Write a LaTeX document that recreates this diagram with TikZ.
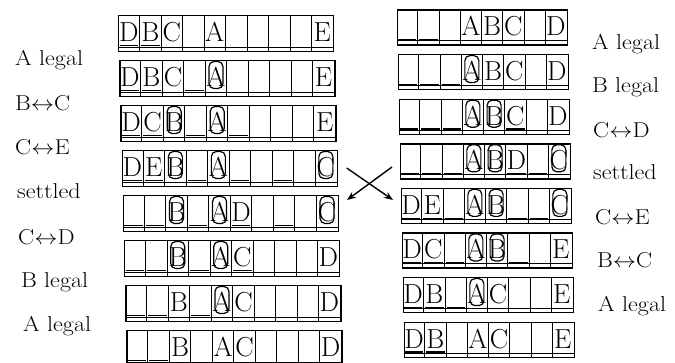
\documentclass[tikz,border=0pt]{standalone}
\usetikzlibrary{arrows.meta}
\newcommand\cw{21.5}
\newcommand\rh{36}
\tikzset{
  letter/.style={inner sep=0pt, anchor=base, font=\fontsize{27.5}{30}\selectfont},
  lab/.style={inner sep=0pt, anchor=base west, font=\fontsize{21.5}{25}\selectfont},
  ulline/.style={line width=1.4pt},
  ring/.style={draw, line width=1.2pt, rounded corners=5pt, minimum width=14pt, minimum height=27pt, inner sep=0pt},
  thinline/.style={line width=1pt},
  rowframe/.style={draw, line width=1.3pt, anchor=north west, inner sep=0pt},
  xarrow/.style={line width=1.4pt, -{Stealth[length=9pt,width=7pt]}},
}
\newcommand\lbl[1]{\scalebox{1.12}[1]{#1}}
\newcommand\cellB[4]{}
\newcommand\cellE[4]{\draw[ulline] (#1+1.5,#2+30.5) -- (#1+\cw-1.5,#2+30.5);}
\newcommand\cellL[4]{\node[letter] (#4) at (#1+0.5*\cw,#2+26.5) {#3};}
\newcommand\cellU[4]{\cellL{#1}{#2}{#3}{#4}\cellE{#1}{#2}{#3}{#4}}
\newcommand\cellC[4]{\cellL{#1}{#2}{#3}{#4}\node[ring] (#4r) at (#1+0.5*\cw,#2+15) {};}
\newcommand\arow[5]{%
  \pgfmathsetmacro\rw{#4*\cw}%
  \node[rowframe, minimum width=\rw pt, minimum height=\rh pt] (#1) at (#2,#3) {};
  \draw[thinline] (#2,#3+\rh-3.5) -- ++(\rw,0);
  \foreach \t/\k [count=\i] in {#5} {
    \pgfmathsetmacro\xl{#2+(\i-1)*\cw}
    \ifnum\i>1 \draw[thinline] (\xl,#3) -- (\xl,#3+\rh); \fi
    \csname cell\k\endcsname{\xl}{#3}{\t}{#1-\i}
  }
}
\begin{document}
\begin{tikzpicture}[x=1pt,y=-1pt]
\useasboundingbox (0,0) rectangle (675,363);
% left column
\arow{L1}{118.0}{15}{10}{D/U,B/U,C/L,x/B,A/L,x/B,x/B,x/B,x/B,E/L}
\arow{L2}{119.2}{60}{10}{D/U,B/U,C/L,x/E,A/C,x/B,x/B,x/B,x/B,E/L}
\arow{L3}{120.4}{105}{10}{D/U,C/U,B/C,x/E,A/C,x/E,x/B,x/B,x/B,E/L}
\arow{L4}{121.6}{150}{10}{D/U,E/U,B/C,x/E,A/C,x/E,x/B,x/E,x/B,C/C}
\arow{L5}{122.8}{195}{10}{x/E,x/E,B/C,x/E,A/C,D/U,x/B,x/E,x/B,C/C}
\arow{L6}{124.0}{240}{10}{x/E,x/E,B/C,x/E,A/C,C/U,x/B,x/B,x/B,D/L}
\arow{L7}{125.2}{285}{10}{x/E,x/E,B/L,x/E,A/C,C/L,x/B,x/B,x/B,D/L}
\arow{L8}{126.4}{330}{10}{x/E,x/E,B/L,x/B,A/L,C/L,x/B,x/B,x/B,D/L}
% right column
\renewcommand\cw{21.25}
\renewcommand\rh{35}
\arow{R1}{396.5}{9.5}{8}{x/E,x/E,x/B,A/L,B/L,C/L,x/B,D/L}
\arow{R2}{397.5}{54.1}{8}{x/E,x/E,x/E,A/C,B/L,C/L,x/B,D/L}
\arow{R3}{398.5}{98.7}{8}{x/E,x/E,x/E,A/C,B/C,C/U,x/B,D/L}
\arow{R4}{399.5}{143.3}{8}{x/E,x/E,x/E,A/C,B/C,D/U,x/E,C/C}
\arow{R5}{400.5}{187.9}{8}{D/U,E/U,x/E,A/C,B/C,x/E,x/E,C/C}
\arow{R6}{401.5}{232.5}{8}{D/U,C/U,x/E,A/C,B/C,x/E,x/B,E/L}
\arow{R7}{402.5}{277.1}{8}{D/U,B/U,x/E,A/C,C/L,x/B,x/B,E/L}
\arow{R8}{403.5}{321.7}{8}{D/U,B/U,x/B,A/L,C/L,x/B,x/B,E/L}
% left labels
\node[lab] (la1) at (15,66) {\lbl{A legal}};
\node[lab] (la2) at (15,111) {\lbl{B$\leftrightarrow$C}};
\node[lab] (la3) at (15,155) {\lbl{C$\leftrightarrow$E}};
\node[lab] (la4) at (17,199) {\lbl{settled}};
\node[lab] (la5) at (18,245) {\lbl{C$\leftrightarrow$D}};
\node[lab] (la6) at (21,288) {\lbl{B legal}};
\node[lab] (la7) at (23,332) {\lbl{A legal}};
% right labels
\node[lab] (ra1) at (592,50) {\lbl{A legal}};
\node[lab] (ra2) at (592,93) {\lbl{B legal}};
\node[lab] (ra3) at (593,138) {\lbl{C$\leftrightarrow$D}};
\node[lab] (ra4) at (593,180) {\lbl{settled}};
\node[lab] (ra5) at (595,225) {\lbl{C$\leftrightarrow$E}};
\node[lab] (ra6) at (597,268) {\lbl{B$\leftrightarrow$C}};
\node[lab] (ra7) at (598,312) {\lbl{A legal}};
% cross arrows
\coordinate (xa1) at (346.7,168);
\coordinate (xa2) at (393,200);
\coordinate (xb1) at (392,167);
\coordinate (xb2) at (347,200);
\draw[xarrow] (xa1) -- (xa2);
\draw[xarrow] (xb1) -- (xb2);
\end{tikzpicture}
\end{document}
